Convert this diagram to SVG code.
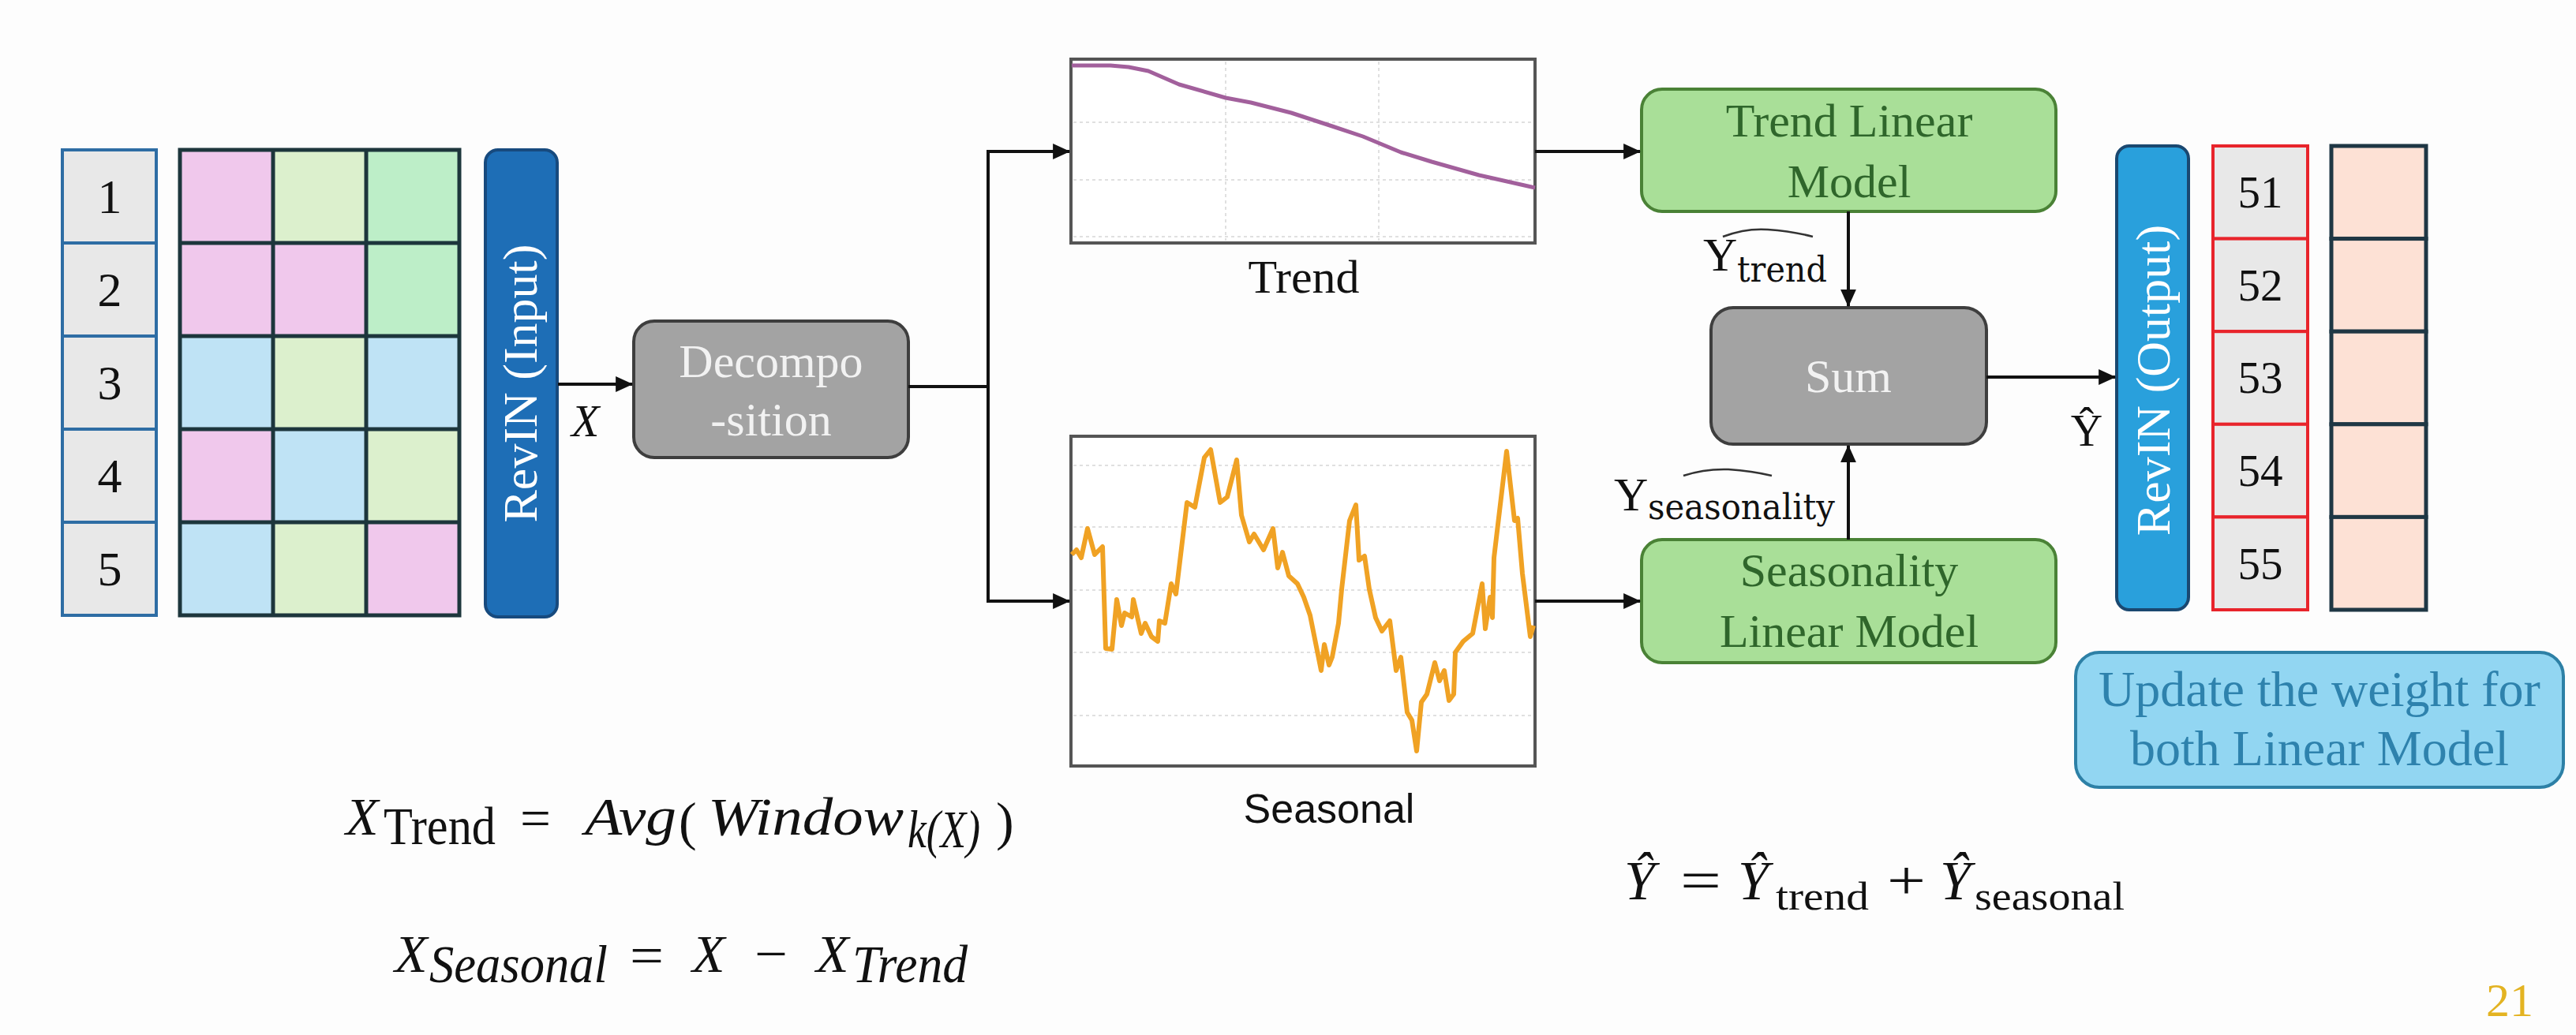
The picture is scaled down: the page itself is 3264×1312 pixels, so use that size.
<svg xmlns="http://www.w3.org/2000/svg" width="3264" height="1312" viewBox="0 0 3264 1312">
<defs>
<style>
.serif{font-family:"Liberation Serif","Times New Roman",serif}
.dserif{font-family:"DejaVu Serif",serif}
.sans{font-family:"Liberation Sans",Arial,sans-serif}
.idx{fill:#e8e8e8;stroke:#2e6da4;stroke-width:4}
.red{fill:#e8e8e8;stroke:#e8242b;stroke-width:4}
.pk{fill:#fde1d5;stroke:#1f3744;stroke-width:5}
.g{stroke:#1d363c;stroke-width:5}
.cp{fill:#f0c8ec}.cy{fill:#dcf0cd}.cg{fill:#bdeec8}.cb{fill:#bfe3f5}
.num{font-size:62px;fill:#111;text-anchor:middle}
.num2{font-size:57px;fill:#111;text-anchor:middle}
.grey{fill:#a3a3a3;stroke:#3e3e3e;stroke-width:4}
.green{fill:#a9df98;stroke:#4a8236;stroke-width:4}
.gt{font-size:60px;fill:#2f662b;text-anchor:middle}
.wt{font-size:60px;fill:#f2f2f2;text-anchor:middle}
.frame{fill:#ffffff;stroke:#555;stroke-width:4}
.grid{stroke:#e0e0e0;stroke-width:2;stroke-dasharray:4 4;fill:none}
.conn{fill:none;stroke:#111;stroke-width:4}
.lbl{font-size:60px;fill:#111}
.it{font-style:italic}
.fm{font-size:68px;fill:#111}
</style>
<marker id="arr" viewBox="0 0 20 20" refX="19" refY="10" markerWidth="22" markerHeight="22" markerUnits="userSpaceOnUse" orient="auto">
<path d="M0,1 L20,10 L0,19 z" fill="#111"/>
</marker>
</defs>
<rect width="3264" height="1312" fill="#fdfdfd"/>

<g id="index-column">
<rect class="idx" x="79" y="190" width="119" height="118"/>
<rect class="idx" x="79" y="308" width="119" height="118"/>
<rect class="idx" x="79" y="426" width="119" height="118"/>
<rect class="idx" x="79" y="544" width="119" height="118"/>
<rect class="idx" x="79" y="662" width="119" height="118"/>
<text class="serif num" x="139" y="270">1</text>
<text class="serif num" x="139" y="388">2</text>
<text class="serif num" x="139" y="506">3</text>
<text class="serif num" x="139" y="624">4</text>
<text class="serif num" x="139" y="742">5</text>
</g>

<g id="input-grid">
<rect class="cp" x="228" y="190" width="118" height="118"/>
<rect class="cy" x="346" y="190" width="118" height="118"/>
<rect class="cg" x="464" y="190" width="118" height="118"/>
<rect class="cp" x="228" y="308" width="118" height="118"/>
<rect class="cp" x="346" y="308" width="118" height="118"/>
<rect class="cg" x="464" y="308" width="118" height="118"/>
<rect class="cb" x="228" y="426" width="118" height="118"/>
<rect class="cy" x="346" y="426" width="118" height="118"/>
<rect class="cb" x="464" y="426" width="118" height="118"/>
<rect class="cp" x="228" y="544" width="118" height="118"/>
<rect class="cb" x="346" y="544" width="118" height="118"/>
<rect class="cy" x="464" y="544" width="118" height="118"/>
<rect class="cb" x="228" y="662" width="118" height="118"/>
<rect class="cy" x="346" y="662" width="118" height="118"/>
<rect class="cp" x="464" y="662" width="118" height="118"/>
<path class="g" fill="none" d="M228,190 H582 V780 H228 Z M346,190 V780 M464,190 V780 M228,308 H582 M228,426 H582 M228,544 H582 M228,662 H582"/>
</g>

<g id="revin-input">
<rect x="615" y="190" width="91" height="592" rx="16" fill="#1e6eb6" stroke="#174a7e" stroke-width="4"/>
<text class="serif" font-size="62" fill="#ffffff" text-anchor="middle" transform="translate(680,486) rotate(-90)">RevIN (Input)</text>
</g>

<g id="decomposition">
<rect class="grey" x="803" y="407" width="348" height="173" rx="26" fill="#9d9d9d"/>
<text class="serif wt" x="977" y="478" font-size="62">Decompo</text>
<text class="serif wt" x="977" y="552" font-size="62">-sition</text>
</g>

<g id="trend-chart">
<rect class="frame" x="1357" y="75" width="588" height="233"/>
<path class="grid" d="M1360,155 H1942 M1360,228 H1942 M1360,300 H1942 M1553,78 V305 M1747,78 V305"/>
<polyline fill="none" stroke="#a2609c" stroke-width="5" stroke-linejoin="round" points="1358,83 1407,83 1430,85 1455,90 1494,107 1553,124 1585,130 1636,143 1688,160 1727,173 1775,193 1814,205 1874,222 1945,238"/>
<text class="serif lbl" x="1652" y="371" text-anchor="middle">Trend</text>
</g>

<g id="seasonal-chart">
<rect class="frame" x="1357" y="553" width="588" height="418"/>
<path class="grid" d="M1360,590 H1942 M1360,668 H1942 M1360,748 H1942 M1360,827 H1942 M1360,907 H1942"/>
<polyline fill="none" stroke="#f0a224" stroke-width="6" stroke-linejoin="round" points="1358,703 1364,697 1370,707 1378,670 1387,703 1397,693 1401,822 1409,823 1415,760 1421,793 1425,777 1434,782 1436,760 1446,803 1451,790 1459,807 1467,813 1469,787 1476,790 1484,740 1490,753 1504,637 1514,643 1526,580 1534,570 1546,637 1555,630 1567,583 1573,653 1583,687 1589,677 1601,697 1613,670 1619,720 1625,700 1633,730 1644,740 1652,757 1660,780 1674,850 1678,817 1684,843 1688,833 1696,790 1700,747 1710,660 1718,640 1722,710 1729,705 1735,747 1743,783 1751,800 1761,787 1769,850 1775,833 1783,903 1789,913 1795,952 1801,890 1808,880 1818,840 1824,863 1830,850 1836,888 1842,880 1844,827 1854,813 1866,803 1878,740 1882,797 1888,757 1891,783 1893,707 1909,572 1919,660 1923,657 1929,727 1939,807 1943,793"/>
<text class="sans" font-size="52" fill="#111" x="1684" y="1043" text-anchor="middle">Seasonal</text>
</g>

<g id="trend-linear-model">
<rect class="green" x="2080" y="113" width="525" height="155" rx="26"/>
<text class="serif gt" x="2343" y="173">Trend Linear</text>
<text class="serif gt" x="2343" y="250">Model</text>
</g>

<g id="seasonality-linear-model">
<rect class="green" x="2080" y="684" width="525" height="156" rx="26"/>
<text class="serif gt" x="2343" y="743">Seasonality</text>
<text class="serif gt" x="2343" y="820">Linear Model</text>
</g>

<g id="sum">
<rect class="grey" x="2168" y="390" width="349" height="173" rx="28"/>
<text class="serif wt" x="2342" y="497">Sum</text>
</g>

<g id="revin-output">
<rect x="2682" y="185" width="91" height="588" rx="16" fill="#29a0dc" stroke="#1a4870" stroke-width="4"/>
<text class="serif" font-size="62" fill="#ffffff" text-anchor="middle" transform="translate(2749,482) rotate(-90)">RevIN (Output)</text>
</g>

<g id="output-index">
<rect class="red" x="2804" y="185" width="120" height="117.6"/>
<rect class="red" x="2804" y="302.6" width="120" height="117.6"/>
<rect class="red" x="2804" y="420.2" width="120" height="117.6"/>
<rect class="red" x="2804" y="537.8" width="120" height="117.6"/>
<rect class="red" x="2804" y="655.4" width="120" height="117.6"/>
<text class="serif num2" x="2864" y="263">51</text>
<text class="serif num2" x="2864" y="381">52</text>
<text class="serif num2" x="2864" y="498">53</text>
<text class="serif num2" x="2864" y="616">54</text>
<text class="serif num2" x="2864" y="734">55</text>
</g>

<g id="output-values">
<rect class="pk" x="2954" y="185" width="120" height="117.6"/>
<rect class="pk" x="2954" y="302.6" width="120" height="117.6"/>
<rect class="pk" x="2954" y="420.2" width="120" height="117.6"/>
<rect class="pk" x="2954" y="537.8" width="120" height="117.6"/>
<rect class="pk" x="2954" y="655.4" width="120" height="117.6"/>
</g>

<g id="update-note">
<rect x="2630" y="827" width="618" height="171" rx="30" fill="#92d6f2" stroke="#2d80a6" stroke-width="4"/>
<text class="serif" font-size="64" fill="#2e82ad" text-anchor="middle" x="2939" y="895">Update the weight for</text>
<text class="serif" font-size="64" fill="#2e82ad" text-anchor="middle" x="2939" y="970">both Linear Model</text>
</g>

<g id="connectors">
<path class="conn" d="M707,487 H801" marker-end="url(#arr)"/>
<path class="conn" d="M1151,490 H1252 V192 H1355" marker-end="url(#arr)"/>
<path class="conn" d="M1252,490 V762 H1355" marker-end="url(#arr)"/>
<path class="conn" d="M1945,192 H2078" marker-end="url(#arr)"/>
<path class="conn" d="M1945,762 H2078" marker-end="url(#arr)"/>
<path class="conn" d="M2342,268 V388" marker-end="url(#arr)"/>
<path class="conn" d="M2342,684 V565" marker-end="url(#arr)"/>
<path class="conn" d="M2517,478 H2680" marker-end="url(#arr)"/>
</g>

<g id="connector-labels">
<text class="serif it" font-size="58" fill="#111" x="724" y="553">X</text>
<text class="serif" font-size="60" fill="#111" x="2158" y="343">Y</text>
<text class="dserif" font-size="44" fill="#111" x="2201" y="357" textLength="114" lengthAdjust="spacingAndGlyphs">trend</text>
<path d="M2183,300 Q2212,289 2240,291 Q2270,293 2297,300" fill="none" stroke="#333" stroke-width="2.5"/>
<text class="serif" font-size="60" fill="#111" x="2045" y="647">Y</text>
<text class="dserif" font-size="44" fill="#111" x="2088" y="658" textLength="237" lengthAdjust="spacingAndGlyphs">seasonality</text>
<path d="M2133,603 Q2160,594 2190,595 Q2220,597 2245,603" fill="none" stroke="#333" stroke-width="2.5"/>
<text class="serif" font-size="56" fill="#111" x="2644" y="565" text-anchor="middle">Ŷ</text>
</g>

<g id="formula-trend">
<text class="serif it fm" x="438" y="1058">X</text>
<text class="serif fm" font-size="58" x="486" y="1070" textLength="142" lengthAdjust="spacingAndGlyphs">Trend</text>
<text class="serif fm" x="659" y="1060" textLength="39" lengthAdjust="spacingAndGlyphs">=</text>
<text class="serif it fm" x="741" y="1058" textLength="116" lengthAdjust="spacingAndGlyphs">Avg</text>
<text class="serif fm" font-size="100" x="860" y="1064">(</text>
<text class="serif it fm" x="897" y="1058" textLength="248" lengthAdjust="spacingAndGlyphs">Window</text>
<text class="serif it fm" font-size="46" x="1150" y="1074" textLength="92" lengthAdjust="spacingAndGlyphs">k(X)</text>
<text class="serif fm" font-size="100" x="1262" y="1064">)</text>
</g>

<g id="formula-seasonal">
<text class="serif it fm" x="500" y="1232">X</text>
<text class="serif it fm" font-size="58" x="544" y="1245" textLength="226" lengthAdjust="spacingAndGlyphs">Seasonal</text>
<text class="serif fm" x="798" y="1234" textLength="43" lengthAdjust="spacingAndGlyphs">=</text>
<text class="serif it fm" x="877" y="1232">X</text>
<text class="serif fm" x="956" y="1232" textLength="42" lengthAdjust="spacingAndGlyphs">−</text>
<text class="serif it fm" x="1034" y="1232">X</text>
<text class="serif it fm" font-size="58" x="1080" y="1245" textLength="146" lengthAdjust="spacingAndGlyphs">Trend</text>
</g>

<g id="formula-output">
<text class="serif it" font-size="70" fill="#111" x="2058" y="1140">Ŷ</text>
<text class="serif" font-size="70" fill="#111" x="2129" y="1140" textLength="52" lengthAdjust="spacingAndGlyphs">=</text>
<text class="serif it" font-size="70" fill="#111" x="2202" y="1140">Ŷ</text>
<text class="serif" font-size="50" fill="#111" x="2250" y="1153" textLength="118" lengthAdjust="spacingAndGlyphs">trend</text>
<text class="serif" font-size="70" fill="#111" x="2391" y="1140" textLength="49" lengthAdjust="spacingAndGlyphs">+</text>
<text class="serif it" font-size="70" fill="#111" x="2458" y="1140">Ŷ</text>
<text class="serif" font-size="50" fill="#111" x="2502" y="1153" textLength="190" lengthAdjust="spacingAndGlyphs">seasonal</text>
</g>

<g id="page-number">
<text class="serif" font-size="60" fill="#e3b322" x="3180" y="1288" text-anchor="middle">21</text>
</g>
</svg>
